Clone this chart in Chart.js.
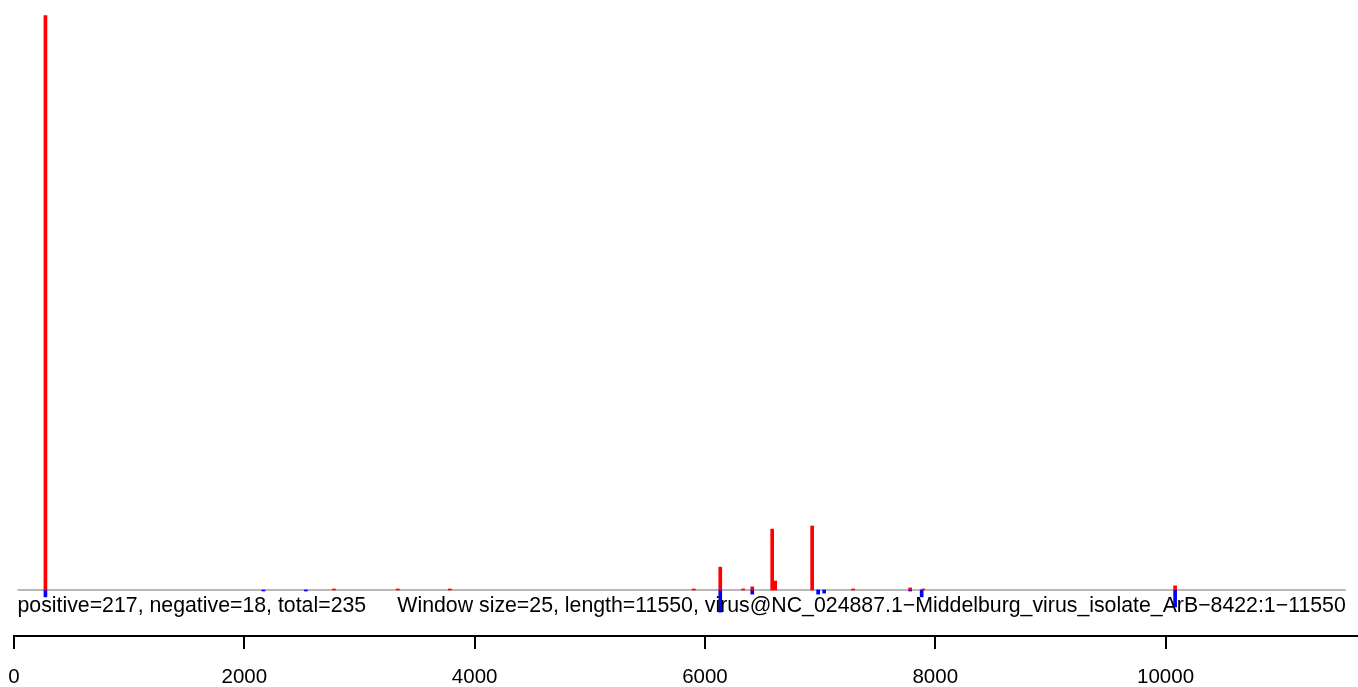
<!DOCTYPE html>
<html>
<head>
<meta charset="utf-8">
<script src="https://cdn.jsdelivr.net/npm/chart.js@4/dist/chart.umd.min.js"></script>
<style>
  html, body { margin: 0; padding: 0; background: #fff; }
  #wrap { width: 1358px; height: 687px; position: relative; }
</style>
</head>
<body>
<div id="wrap"><canvas id="chart"></canvas></div>
<script>
// positive (red) windows: start position and count
const posX = [273, 2778, 3333, 3785, 5903, 6133, 6332, 6411, 6584, 6610, 6931, 7287, 7782, 7895, 10083];
const posY = [166, 0.3, 0.3, 0.3, 0.3, 6.6, 0.3, 0.9, 17.6, 2.6, 18.5, 0.3, 0.6, 0.3, 1.2];
// negative (blue) windows
const negX = [273, 2166, 2535, 6133, 6411, 6983, 7035, 7782, 7882, 10083];
const negY = [-2, -0.3, -0.3, -6.4, -1.2, -1.2, -0.9, -0.3, -2, -4.9];

const xTicks = [0, 2000, 4000, 6000, 8000, 10000];
const seqStart = 30;
const seqEnd = 11565;
const leftLabel = 'positive=217, negative=18, total=235';
const rightLabel = 'Window size=25, length=11550, virus@NC_024887.1\u2212Middelburg_virus_isolate_ArB\u22128422:1\u221211550';

const FONT = '"Liberation Sans", Arial, sans-serif';

// gray zero line + info text
const baselinePlugin = {
  id: 'baseline',
  beforeDatasetsDraw(chart) {
    const { ctx, scales: { x, y } } = chart;
    const y0 = y.getPixelForValue(0);
    ctx.save();
    ctx.strokeStyle = '#a0a0a0';
    ctx.lineWidth = 1.5;
    ctx.beginPath();
    ctx.moveTo(x.getPixelForValue(seqStart), y0);
    ctx.lineTo(x.getPixelForValue(seqEnd), y0);
    ctx.stroke();
    ctx.restore();
  },
  afterDatasetsDraw(chart) {
    const { ctx, scales: { x, y } } = chart;
    const y0 = y.getPixelForValue(0);
    ctx.save();
    ctx.fillStyle = '#000';
    ctx.font = '21.3px ' + FONT;
    ctx.textBaseline = 'alphabetic';
    ctx.textAlign = 'left';
    ctx.fillText(leftLabel, x.getPixelForValue(seqStart), y0 + 22);
    ctx.textAlign = 'right';
    ctx.fillText(rightLabel, x.getPixelForValue(seqEnd), y0 + 22);
    ctx.restore();
  }
};

new Chart(document.getElementById('chart'), {
  type: 'bar',
  data: {
    datasets: [
      {
        label: 'positive',
        data: posX.map((v, i) => ({ x: v, y: posY[i] })),
        backgroundColor: '#ff0000',
        barThickness: 3,
        grouped: false
      },
      {
        label: 'negative',
        data: negX.map((v, i) => ({ x: v, y: negY[i] })),
        backgroundColor: '#0000ff',
        barThickness: 3,
        grouped: false
      }
    ]
  },
  options: {
    responsive: true,
    maintainAspectRatio: false,
    animation: false,
    layout: { padding: { left: 14, right: 0, top: 15, bottom: 0 } },
    plugins: {
      legend: { display: false },
      tooltip: { enabled: false }
    },
    scales: {
      x: {
        type: 'linear',
        offset: false,
        min: 0,
        max: 11671,
        afterBuildTicks(scale) {
          scale.ticks = xTicks.map(v => ({ value: v }));
        },
        afterFit(scale) {
          scale.height = 51;
          scale.paddingLeft = 0;
          scale.paddingRight = 0;
        },
        border: { display: true, color: '#000', width: 2 },
        grid: {
          offset: false,
          drawOnChartArea: false,
          drawTicks: true,
          tickLength: 13,
          color: '#000',
          lineWidth: 2
        },
        ticks: {
          color: '#000',
          padding: 18,
          maxRotation: 0,
          autoSkip: false,
          font: { family: FONT, size: 20.5, lineHeight: 1 },
          callback: v => String(v)
        }
      },
      y: {
        display: false,
        min: -13.3,
        max: 166.2
      }
    }
  },
  plugins: [baselinePlugin]
});
</script>
</body>
</html>
